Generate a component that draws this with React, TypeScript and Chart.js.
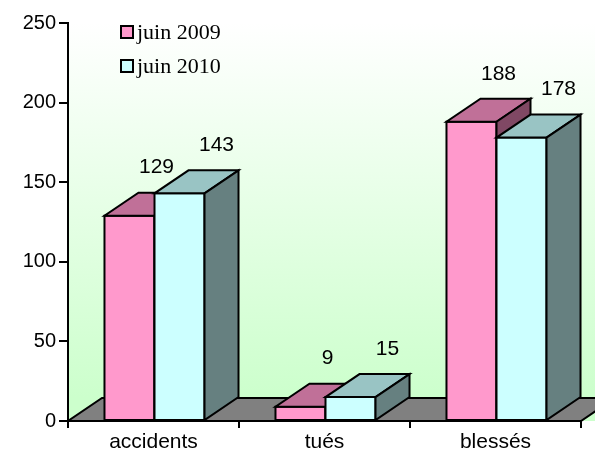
import React, { useEffect, useRef } from "react";
import { Chart, registerables } from "chart.js";

Chart.register(...registerables);

const categories = ["accidents", "tués", "blessés"];
const juin2009 = [129, 9, 188];
const juin2010 = [143, 15, 178];
const seriesNames = ["juin 2009", "juin 2010"];
const yMin = 0;
const yMax = 250;
const yStep = 50;

const FRONT = ["#FF99CC", "#CCFFFF"];
const TOP = ["#C07098", "#99C4C4"];
const SIDE = ["#804864", "#668080"];
const DX = 34;
const DY = 23;
const LABEL_OFF = [28, 38];
const SANS = '"Liberation Sans", Arial, sans-serif';
const SERIF = '"Liberation Serif", "Times New Roman", serif';

const threeD = {
  id: "threeD",
  beforeDraw(chart: any) {
    const { ctx, chartArea: a } = chart;
    ctx.save();
    const g = ctx.createLinearGradient(0, a.top, 0, a.bottom - DY);
    g.addColorStop(0, "#FFFFFF");
    g.addColorStop(1, "#CCFFCC");
    ctx.fillStyle = g;
    ctx.fillRect(a.left, a.top, chart.width - a.left, a.bottom - a.top);
    ctx.restore();
  },
  beforeDatasetsDraw(chart: any) {
    const { ctx, chartArea: a } = chart;
    ctx.save();
    ctx.beginPath();
    ctx.moveTo(a.left, a.bottom);
    ctx.lineTo(a.right, a.bottom);
    ctx.lineTo(a.right + DX, a.bottom - DY);
    ctx.lineTo(a.left + DX, a.bottom - DY);
    ctx.closePath();
    ctx.fillStyle = "#808080";
    ctx.fill();
    ctx.lineWidth = 2;
    ctx.strokeStyle = "#000";
    ctx.lineJoin = "miter";
    ctx.stroke();
    ctx.restore();
  },
  afterDatasetsDraw(chart: any) {
    const { ctx } = chart;
    ctx.save();
    ctx.lineWidth = 2;
    ctx.strokeStyle = "#000";
    ctx.lineJoin = "miter";
    const n = chart.data.labels.length;
    const labels: any[] = [];
    for (let i = 0; i < n; i++) {
      chart.data.datasets.forEach((ds: any, d: number) => {
        const el = chart.getDatasetMeta(d).data[i];
        const { x, y, base, width } = el.getProps(["x", "y", "base", "width"], true);
        const x0 = x - width / 2 + 1;
        const x1 = x + width / 2 + 1;
        // front
        ctx.beginPath();
        ctx.rect(x0, y, x1 - x0, base - y);
        ctx.fillStyle = FRONT[d];
        ctx.fill();
        ctx.stroke();
        // top
        ctx.beginPath();
        ctx.moveTo(x0, y);
        ctx.lineTo(x1, y);
        ctx.lineTo(x1 + DX, y - DY);
        ctx.lineTo(x0 + DX, y - DY);
        ctx.closePath();
        ctx.fillStyle = TOP[d];
        ctx.fill();
        ctx.stroke();
        // side
        ctx.beginPath();
        ctx.moveTo(x1, y);
        ctx.lineTo(x1 + DX, y - DY);
        ctx.lineTo(x1 + DX, base - DY);
        ctx.lineTo(x1, base);
        ctx.closePath();
        ctx.fillStyle = SIDE[d];
        ctx.fill();
        ctx.stroke();
        labels.push({ x: x + LABEL_OFF[d], y: y - 48, t: String(ds.data[i]) });
      });
    }
    ctx.fillStyle = "#000";
    ctx.font = `21px ${SANS}`;
    ctx.textAlign = "center";
    ctx.textBaseline = "middle";
    labels.forEach((l) => ctx.fillText(l.t, l.x, l.y));
    // legend
    ctx.font = `22px ${SERIF}`;
    ctx.textAlign = "left";
    seriesNames.forEach((name, d) => {
      const cy = 32 + d * 34;
      ctx.beginPath();
      ctx.rect(121, cy - 6, 12, 12);
      ctx.fillStyle = FRONT[d];
      ctx.fill();
      ctx.lineWidth = 2;
      ctx.stroke();
      ctx.fillStyle = "#000";
      ctx.fillText(name, 137, cy + 1);
    });
    ctx.restore();
  },
};

export default function App() {
  const ref = useRef<HTMLCanvasElement>(null);
  useEffect(() => {
    document.body.style.margin = "0";
    const chart = new Chart(ref.current!, {
      type: "bar",
      data: {
        labels: categories,
        datasets: [
          {
            label: seriesNames[0],
            data: juin2009,
            backgroundColor: "rgba(0,0,0,0)",
            borderWidth: 0,
            categoryPercentage: 0.585,
            barPercentage: 1,
          },
          {
            label: seriesNames[1],
            data: juin2010,
            backgroundColor: "rgba(0,0,0,0)",
            borderWidth: 0,
            categoryPercentage: 0.585,
            barPercentage: 1,
          },
        ],
      },
      options: {
        responsive: false,
        animation: false,
        layout: { padding: { top: 23, right: 14, left: 0, bottom: 0 } },
        plugins: { legend: { display: false }, tooltip: { enabled: false } },
        scales: {
          x: {
            grid: {
              offset: true,
              drawOnChartArea: false,
              drawTicks: true,
              tickLength: 7,
              color: "#000",
              lineWidth: 2,
            },
            border: { display: true, color: "#000", width: 2 },
            ticks: { color: "#000", font: { family: SANS, size: 21 }, padding: 2 },
            afterFit: (s: any) => {
              s.height = 31;
            },
          },
          y: {
            min: yMin,
            max: yMax,
            grid: {
              drawOnChartArea: false,
              drawTicks: true,
              tickLength: 9,
              color: "#000",
              lineWidth: 2,
            },
            border: { display: true, color: "#000", width: 2 },
            ticks: { stepSize: yStep, color: "#000", font: { family: SANS, size: 20 }, padding: 3 },
            afterFit: (s: any) => {
              s.width = 68;
            },
          },
        },
      },
      plugins: [threeD],
    });
    return () => chart.destroy();
  }, []);
  return (
    <div style={{ width: 595, height: 452 }}>
      <canvas ref={ref} width={595} height={452} style={{ display: "block" }} />
    </div>
  );
}
